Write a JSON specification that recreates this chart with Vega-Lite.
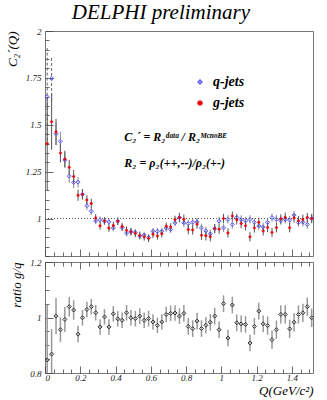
{
  "$schema": "https://vega.github.io/schema/vega-lite/v6.json",
  "padding": {"left": 5, "top": 1, "right": 14, "bottom": 0},
  "background": "white",
  "title": {"text": "DELPHI preliminary", "font": "Liberation Serif", "fontStyle": "italic", "fontWeight": "normal", "fontSize": 21, "color": "#000", "anchor": "middle", "offset": 4},
  "datasets": {
    "upper": [
      {"Q":0.0125,"jet":"q-jets","C":1.649,"err":0.26},{"Q":0.0375,"jet":"q-jets","C":1.747,"err":0.12},{"Q":0.0625,"jet":"q-jets","C":1.452,"err":0.06},{"Q":0.0875,"jet":"q-jets","C":1.412,"err":0.05},{"Q":0.1125,"jet":"q-jets","C":1.312,"err":0.04},{"Q":0.1375,"jet":"q-jets","C":1.226,"err":0.035},{"Q":0.1625,"jet":"q-jets","C":1.192,"err":0.03},{"Q":0.1875,"jet":"q-jets","C":1.194,"err":0.028},{"Q":0.2125,"jet":"q-jets","C":1.129,"err":0.025},{"Q":0.2375,"jet":"q-jets","C":1.068,"err":0.022},
      {"Q":0.2625,"jet":"q-jets","C":1.039,"err":0.02},{"Q":0.2875,"jet":"q-jets","C":0.987,"err":0.018},{"Q":0.3125,"jet":"q-jets","C":0.993,"err":0.018},{"Q":0.3375,"jet":"q-jets","C":0.986,"err":0.018},{"Q":0.3625,"jet":"q-jets","C":0.982,"err":0.018},{"Q":0.3875,"jet":"q-jets","C":0.95,"err":0.018},{"Q":0.4125,"jet":"q-jets","C":0.986,"err":0.018},{"Q":0.4375,"jet":"q-jets","C":0.952,"err":0.018},{"Q":0.4625,"jet":"q-jets","C":0.922,"err":0.018},{"Q":0.4875,"jet":"q-jets","C":0.93,"err":0.018},
      {"Q":0.5125,"jet":"q-jets","C":0.925,"err":0.018},{"Q":0.5375,"jet":"q-jets","C":0.906,"err":0.018},{"Q":0.5625,"jet":"q-jets","C":0.912,"err":0.018},{"Q":0.5875,"jet":"q-jets","C":0.898,"err":0.018},{"Q":0.6125,"jet":"q-jets","C":0.932,"err":0.018},{"Q":0.6375,"jet":"q-jets","C":0.932,"err":0.018},{"Q":0.6625,"jet":"q-jets","C":0.932,"err":0.018},{"Q":0.6875,"jet":"q-jets","C":0.948,"err":0.018},{"Q":0.7125,"jet":"q-jets","C":0.941,"err":0.018},{"Q":0.7375,"jet":"q-jets","C":0.977,"err":0.018},
      {"Q":0.7625,"jet":"q-jets","C":1.005,"err":0.022},{"Q":0.7875,"jet":"q-jets","C":0.977,"err":0.022},{"Q":0.8125,"jet":"q-jets","C":0.973,"err":0.022},{"Q":0.8375,"jet":"q-jets","C":0.98,"err":0.022},{"Q":0.8625,"jet":"q-jets","C":0.982,"err":0.022},{"Q":0.8875,"jet":"q-jets","C":0.95,"err":0.022},{"Q":0.9125,"jet":"q-jets","C":0.934,"err":0.022},{"Q":0.9375,"jet":"q-jets","C":0.919,"err":0.022},{"Q":0.9625,"jet":"q-jets","C":0.946,"err":0.022},{"Q":0.9875,"jet":"q-jets","C":0.986,"err":0.022},
      {"Q":1.0125,"jet":"q-jets","C":0.95,"err":0.022},{"Q":1.0375,"jet":"q-jets","C":0.995,"err":0.022},{"Q":1.0625,"jet":"q-jets","C":0.968,"err":0.022},{"Q":1.0875,"jet":"q-jets","C":1.005,"err":0.022},{"Q":1.1125,"jet":"q-jets","C":0.995,"err":0.022},{"Q":1.1375,"jet":"q-jets","C":0.987,"err":0.022},{"Q":1.1625,"jet":"q-jets","C":0.995,"err":0.022},{"Q":1.1875,"jet":"q-jets","C":0.98,"err":0.022},{"Q":1.2125,"jet":"q-jets","C":0.96,"err":0.022},{"Q":1.2375,"jet":"q-jets","C":0.955,"err":0.022},
      {"Q":1.2625,"jet":"q-jets","C":0.98,"err":0.022},{"Q":1.2875,"jet":"q-jets","C":1.005,"err":0.022},{"Q":1.3125,"jet":"q-jets","C":0.996,"err":0.022},{"Q":1.3375,"jet":"q-jets","C":0.989,"err":0.022},{"Q":1.3625,"jet":"q-jets","C":0.996,"err":0.022},{"Q":1.3875,"jet":"q-jets","C":0.991,"err":0.022},{"Q":1.4125,"jet":"q-jets","C":1.018,"err":0.022},{"Q":1.4375,"jet":"q-jets","C":0.979,"err":0.022},{"Q":1.4625,"jet":"q-jets","C":0.98,"err":0.022},{"Q":1.4875,"jet":"q-jets","C":0.968,"err":0.022},{"Q":1.5125,"jet":"q-jets","C":1.0,"err":0.022},
      {"Q":0.0125,"jet":"g-jets","C":1.40,"err":0.25},{"Q":0.0375,"jet":"g-jets","C":1.516,"err":0.15},{"Q":0.0625,"jet":"g-jets","C":1.462,"err":0.07},{"Q":0.0875,"jet":"g-jets","C":1.349,"err":0.05},{"Q":0.1125,"jet":"g-jets","C":1.317,"err":0.045},{"Q":0.1375,"jet":"g-jets","C":1.273,"err":0.04},{"Q":0.1625,"jet":"g-jets","C":1.224,"err":0.035},{"Q":0.1875,"jet":"g-jets","C":1.124,"err":0.03},{"Q":0.2125,"jet":"g-jets","C":1.129,"err":0.028},{"Q":0.2375,"jet":"g-jets","C":1.099,"err":0.025},
      {"Q":0.2625,"jet":"g-jets","C":1.08,"err":0.025},{"Q":0.2875,"jet":"g-jets","C":1.003,"err":0.02},{"Q":0.3125,"jet":"g-jets","C":0.961,"err":0.02},{"Q":0.3375,"jet":"g-jets","C":0.987,"err":0.02},{"Q":0.3625,"jet":"g-jets","C":0.949,"err":0.02},{"Q":0.3875,"jet":"g-jets","C":0.963,"err":0.02},{"Q":0.4125,"jet":"g-jets","C":0.985,"err":0.02},{"Q":0.4375,"jet":"g-jets","C":0.957,"err":0.02},{"Q":0.4625,"jet":"g-jets","C":0.937,"err":0.02},{"Q":0.4875,"jet":"g-jets","C":0.929,"err":0.02},
      {"Q":0.5125,"jet":"g-jets","C":0.921,"err":0.02},{"Q":0.5375,"jet":"g-jets","C":0.91,"err":0.02},{"Q":0.5625,"jet":"g-jets","C":0.902,"err":0.02},{"Q":0.5875,"jet":"g-jets","C":0.894,"err":0.02},{"Q":0.6125,"jet":"g-jets","C":0.916,"err":0.02},{"Q":0.6375,"jet":"g-jets","C":0.907,"err":0.02},{"Q":0.6625,"jet":"g-jets","C":0.919,"err":0.02},{"Q":0.6875,"jet":"g-jets","C":0.959,"err":0.02},{"Q":0.7125,"jet":"g-jets","C":0.955,"err":0.02},{"Q":0.7375,"jet":"g-jets","C":0.995,"err":0.02},
      {"Q":0.7625,"jet":"g-jets","C":1.005,"err":0.025},{"Q":0.7875,"jet":"g-jets","C":0.996,"err":0.025},{"Q":0.8125,"jet":"g-jets","C":0.941,"err":0.025},{"Q":0.8375,"jet":"g-jets","C":0.939,"err":0.025},{"Q":0.8625,"jet":"g-jets","C":0.97,"err":0.025},{"Q":0.8875,"jet":"g-jets","C":0.911,"err":0.025},{"Q":0.9125,"jet":"g-jets","C":0.908,"err":0.025},{"Q":0.9375,"jet":"g-jets","C":0.903,"err":0.025},{"Q":0.9625,"jet":"g-jets","C":0.946,"err":0.025},{"Q":0.9875,"jet":"g-jets","C":0.943,"err":0.025},
      {"Q":1.0125,"jet":"g-jets","C":1.0,"err":0.025},{"Q":1.0375,"jet":"g-jets","C":0.923,"err":0.025},{"Q":1.0625,"jet":"g-jets","C":1.013,"err":0.025},{"Q":1.0875,"jet":"g-jets","C":0.993,"err":0.025},{"Q":1.1125,"jet":"g-jets","C":0.973,"err":0.025},{"Q":1.1375,"jet":"g-jets","C":0.961,"err":0.025},{"Q":1.1625,"jet":"g-jets","C":0.902,"err":0.025},{"Q":1.1875,"jet":"g-jets","C":0.95,"err":0.025},{"Q":1.2125,"jet":"g-jets","C":0.98,"err":0.025},{"Q":1.2375,"jet":"g-jets","C":0.934,"err":0.025},
      {"Q":1.2625,"jet":"g-jets","C":0.952,"err":0.025},{"Q":1.2875,"jet":"g-jets","C":0.926,"err":0.025},{"Q":1.3125,"jet":"g-jets","C":0.951,"err":0.025},{"Q":1.3375,"jet":"g-jets","C":0.998,"err":0.025},{"Q":1.3625,"jet":"g-jets","C":1.006,"err":0.025},{"Q":1.3875,"jet":"g-jets","C":0.951,"err":0.025},{"Q":1.4125,"jet":"g-jets","C":1.003,"err":0.025},{"Q":1.4375,"jet":"g-jets","C":0.988,"err":0.025},{"Q":1.4625,"jet":"g-jets","C":0.996,"err":0.025},{"Q":1.4875,"jet":"g-jets","C":1.005,"err":0.025},{"Q":1.5125,"jet":"g-jets","C":1.0,"err":0.025}
    ],
    "ratio": [
      {"Q":0.0125,"r":0.847,"re":0.2},{"Q":0.0375,"r":0.868,"re":0.09},{"Q":0.0625,"r":1.005,"re":0.065},{"Q":0.0875,"r":0.956,"re":0.045},{"Q":0.1125,"r":0.993,"re":0.045},{"Q":0.1375,"r":1.039,"re":0.035},{"Q":0.1625,"r":1.027,"re":0.035},{"Q":0.1875,"r":0.94,"re":0.03},{"Q":0.2125,"r":0.999,"re":0.028},{"Q":0.2375,"r":1.029,"re":0.028},
      {"Q":0.2625,"r":1.039,"re":0.028},{"Q":0.2875,"r":1.017,"re":0.028},{"Q":0.3125,"r":0.966,"re":0.028},{"Q":0.3375,"r":1.002,"re":0.028},{"Q":0.3625,"r":0.966,"re":0.028},{"Q":0.3875,"r":1.013,"re":0.028},{"Q":0.4125,"r":0.995,"re":0.028},{"Q":0.4375,"r":0.99,"re":0.028},{"Q":0.4625,"r":1.017,"re":0.028},{"Q":0.4875,"r":0.999,"re":0.028},
      {"Q":0.5125,"r":0.996,"re":0.028},{"Q":0.5375,"r":1.005,"re":0.028},{"Q":0.5625,"r":0.99,"re":0.028},{"Q":0.5875,"r":0.996,"re":0.028},{"Q":0.6125,"r":0.984,"re":0.028},{"Q":0.6375,"r":0.972,"re":0.028},{"Q":0.6625,"r":0.984,"re":0.028},{"Q":0.6875,"r":1.011,"re":0.028},{"Q":0.7125,"r":1.015,"re":0.028},{"Q":0.7375,"r":1.016,"re":0.028},
      {"Q":0.7625,"r":1.005,"re":0.028},{"Q":0.7875,"r":1.015,"re":0.03},{"Q":0.8125,"r":0.968,"re":0.03},{"Q":0.8375,"r":0.96,"re":0.03},{"Q":0.8625,"r":0.987,"re":0.03},{"Q":0.8875,"r":0.96,"re":0.03},{"Q":0.9125,"r":0.972,"re":0.03},{"Q":0.9375,"r":0.983,"re":0.03},{"Q":0.9625,"r":1.005,"re":0.03},{"Q":0.9875,"r":0.956,"re":0.03},
      {"Q":1.0125,"r":1.05,"re":0.03},{"Q":1.0375,"r":0.926,"re":0.03},{"Q":1.0625,"r":1.045,"re":0.03},{"Q":1.0875,"r":0.981,"re":0.03},{"Q":1.1125,"r":0.977,"re":0.03},{"Q":1.1375,"r":0.975,"re":0.03},{"Q":1.1625,"r":0.908,"re":0.03},{"Q":1.1875,"r":0.968,"re":0.03},{"Q":1.2125,"r":1.023,"re":0.03},{"Q":1.2375,"r":0.977,"re":0.03},
      {"Q":1.2625,"r":0.971,"re":0.033},{"Q":1.2875,"r":0.92,"re":0.033},{"Q":1.3125,"r":0.956,"re":0.033},{"Q":1.3375,"r":1.011,"re":0.033},{"Q":1.3625,"r":1.011,"re":0.033},{"Q":1.3875,"r":0.959,"re":0.033},{"Q":1.4125,"r":0.983,"re":0.033},{"Q":1.4375,"r":1.011,"re":0.033},{"Q":1.4625,"r":1.017,"re":0.033},{"Q":1.4875,"r":1.039,"re":0.033},{"Q":1.5125,"r":0.999,"re":0.033}
    ]
  },
  "spacing": 0,
  "vconcat": [
    {
      "width": 268,
      "height": 225,
      "layer": [
        {"data": {"name": "upper"},
         "transform": [{"filter": "datum.jet == 'q-jets' && datum.Q > 0.05"}], "mark": {"type": "errorbar", "color": "#9a9aa6", "thickness": 1.2},
         "encoding": {
           "x": {"field": "Q", "type": "quantitative", "scale": {"domain": [0, 1.52], "nice": false, "zero": false},
             "axis": {"orient": "bottom", "labels": false, "title": null,
               "values": [0,0.05,0.1,0.15,0.2,0.25,0.3,0.35,0.4,0.45,0.5,0.55,0.6,0.65,0.7,0.75,0.8,0.85,0.9,0.95,1,1.05,1.1,1.15,1.2,1.25,1.3,1.35,1.4,1.45,1.5],
               "tickSize": {"condition": {"test": "indexof([0,0.2,0.4,0.6,0.8,1,1.2,1.4], datum.value) >= 0", "value": -7}, "value": -4}}},
           "y": {"field": "C", "type": "quantitative", "scale": {"domain": [0.8, 2], "nice": false, "zero": false},
             "axis": {"title": "C₂´(Q)", "titleAnchor": "end", "titleFontSize": 13, "titlePadding": 6,
               "values": [0.8,0.85,0.9,0.95,1,1.05,1.1,1.15,1.2,1.25,1.3,1.35,1.4,1.45,1.5,1.55,1.6,1.65,1.7,1.75,1.8,1.85,1.9,1.95,2],
               "labelExpr": "indexof([1,1.25,1.5,1.75,2], datum.value) >= 0 ? datum.value + '' : ''",
               "tickSize": {"condition": {"test": "indexof([1,1.25,1.5,1.75,2], datum.value) >= 0", "value": -8}, "value": -4},
               "labelPadding": 12}},
           "yError": {"field": "err"}}},
        {"data": {"name": "upper"},
         "transform": [{"filter": "datum.jet == 'q-jets' && datum.Q < 0.05"}], "mark": {"type": "errorbar", "color": "#666", "thickness": 1, "rule": {"strokeDash": [3, 2]}},
         "encoding": {
           "x": {"field": "Q", "type": "quantitative", "scale": {"domain": [0, 1.52], "nice": false, "zero": false},
             "axis": {"orient": "bottom", "labels": false, "title": null,
               "values": [0,0.05,0.1,0.15,0.2,0.25,0.3,0.35,0.4,0.45,0.5,0.55,0.6,0.65,0.7,0.75,0.8,0.85,0.9,0.95,1,1.05,1.1,1.15,1.2,1.25,1.3,1.35,1.4,1.45,1.5],
               "tickSize": {"condition": {"test": "indexof([0,0.2,0.4,0.6,0.8,1,1.2,1.4], datum.value) >= 0", "value": -7}, "value": -4}}},
           "y": {"field": "C", "type": "quantitative", "scale": {"domain": [0.8, 2], "nice": false, "zero": false},
             "axis": {"title": "C₂´(Q)", "titleAnchor": "end", "titleFontSize": 13, "titlePadding": 6,
               "values": [0.8,0.85,0.9,0.95,1,1.05,1.1,1.15,1.2,1.25,1.3,1.35,1.4,1.45,1.5,1.55,1.6,1.65,1.7,1.75,1.8,1.85,1.9,1.95,2],
               "labelExpr": "indexof([1,1.25,1.5,1.75,2], datum.value) >= 0 ? datum.value + '' : ''",
               "tickSize": {"condition": {"test": "indexof([1,1.25,1.5,1.75,2], datum.value) >= 0", "value": -8}, "value": -4},
               "labelPadding": 12}},
           "yError": {"field": "err"}}},
        {"data": {"name": "upper"},
         "transform": [{"filter": "datum.jet == 'g-jets'"}], "mark": {"type": "errorbar", "color": "#555", "thickness": 1},
         "encoding": {
           "x": {"field": "Q", "type": "quantitative", "scale": {"domain": [0, 1.52], "nice": false, "zero": false},
             "axis": {"orient": "bottom", "labels": false, "title": null,
               "values": [0,0.05,0.1,0.15,0.2,0.25,0.3,0.35,0.4,0.45,0.5,0.55,0.6,0.65,0.7,0.75,0.8,0.85,0.9,0.95,1,1.05,1.1,1.15,1.2,1.25,1.3,1.35,1.4,1.45,1.5],
               "tickSize": {"condition": {"test": "indexof([0,0.2,0.4,0.6,0.8,1,1.2,1.4], datum.value) >= 0", "value": -7}, "value": -4}}},
           "y": {"field": "C", "type": "quantitative", "scale": {"domain": [0.8, 2], "nice": false, "zero": false},
             "axis": {"title": "C₂´(Q)", "titleAnchor": "end", "titleFontSize": 13, "titlePadding": 6,
               "values": [0.8,0.85,0.9,0.95,1,1.05,1.1,1.15,1.2,1.25,1.3,1.35,1.4,1.45,1.5,1.55,1.6,1.65,1.7,1.75,1.8,1.85,1.9,1.95,2],
               "labelExpr": "indexof([1,1.25,1.5,1.75,2], datum.value) >= 0 ? datum.value + '' : ''",
               "tickSize": {"condition": {"test": "indexof([1,1.25,1.5,1.75,2], datum.value) >= 0", "value": -8}, "value": -4},
               "labelPadding": 12}},
           "yError": {"field": "err"}}},
        {"data": {"values": [{}]}, "mark": {"type": "rule", "color": "#555", "strokeDash": [1, 2], "strokeWidth": 1},
         "encoding": {
           "x": {"datum": 0, "type": "quantitative", "scale": {"domain": [0, 1.52], "nice": false, "zero": false},
             "axis": {"orient": "bottom", "labels": false, "title": null,
               "values": [0,0.05,0.1,0.15,0.2,0.25,0.3,0.35,0.4,0.45,0.5,0.55,0.6,0.65,0.7,0.75,0.8,0.85,0.9,0.95,1,1.05,1.1,1.15,1.2,1.25,1.3,1.35,1.4,1.45,1.5],
               "tickSize": {"condition": {"test": "indexof([0,0.2,0.4,0.6,0.8,1,1.2,1.4], datum.value) >= 0", "value": -7}, "value": -4}}},
           "x2": {"datum": 1.52},
           "y": {"datum": 1, "type": "quantitative", "scale": {"domain": [0.8, 2], "nice": false, "zero": false},
             "axis": {"title": "C₂´(Q)", "titleAnchor": "end", "titleFontSize": 13, "titlePadding": 6,
               "values": [0.8,0.85,0.9,0.95,1,1.05,1.1,1.15,1.2,1.25,1.3,1.35,1.4,1.45,1.5,1.55,1.6,1.65,1.7,1.75,1.8,1.85,1.9,1.95,2],
               "labelExpr": "indexof([1,1.25,1.5,1.75,2], datum.value) >= 0 ? datum.value + '' : ''",
               "tickSize": {"condition": {"test": "indexof([1,1.25,1.5,1.75,2], datum.value) >= 0", "value": -8}, "value": -4},
               "labelPadding": 12}}}},
        {"data": {"name": "upper"},
         "transform": [{"filter": "datum.jet == 'q-jets'"}],
         "mark": {"type": "point", "size": 16, "strokeWidth": 1, "opacity": 1},
         "encoding": {
           "x": {"field": "Q", "type": "quantitative", "scale": {"domain": [0, 1.52], "nice": false, "zero": false},
             "axis": {"orient": "bottom", "labels": false, "title": null,
               "values": [0,0.05,0.1,0.15,0.2,0.25,0.3,0.35,0.4,0.45,0.5,0.55,0.6,0.65,0.7,0.75,0.8,0.85,0.9,0.95,1,1.05,1.1,1.15,1.2,1.25,1.3,1.35,1.4,1.45,1.5],
               "tickSize": {"condition": {"test": "indexof([0,0.2,0.4,0.6,0.8,1,1.2,1.4], datum.value) >= 0", "value": -7}, "value": -4}}},
           "y": {"field": "C", "type": "quantitative", "scale": {"domain": [0.8, 2], "nice": false, "zero": false},
             "axis": {"title": "C₂´(Q)", "titleAnchor": "end", "titleFontSize": 13, "titlePadding": 6,
               "values": [0.8,0.85,0.9,0.95,1,1.05,1.1,1.15,1.2,1.25,1.3,1.35,1.4,1.45,1.5,1.55,1.6,1.65,1.7,1.75,1.8,1.85,1.9,1.95,2],
               "labelExpr": "indexof([1,1.25,1.5,1.75,2], datum.value) >= 0 ? datum.value + '' : ''",
               "tickSize": {"condition": {"test": "indexof([1,1.25,1.5,1.75,2], datum.value) >= 0", "value": -8}, "value": -4},
               "labelPadding": 12}},
           "stroke": {"field": "jet", "type": "nominal", "scale": {"domain": ["q-jets", "g-jets"], "range": ["#5a5aff", "#ee0000"]},
             "legend": {"orient": "none", "legendX": 148, "legendY": 44, "title": null, "labelFont": "Liberation Serif", "labelFontStyle": "italic", "labelFontWeight": "bold", "labelFontSize": 14, "labelColor": "#000", "symbolSize": 14, "rowPadding": 7, "labelOffset": 6}},
           "fill": {"field": "jet", "type": "nominal", "scale": {"domain": ["q-jets", "g-jets"], "range": ["transparent", "#ee0000"]},
             "legend": {"orient": "none", "legendX": 148, "legendY": 44, "title": null, "labelFont": "Liberation Serif", "labelFontStyle": "italic", "labelFontWeight": "bold", "labelFontSize": 14, "labelColor": "#000", "symbolSize": 14, "rowPadding": 7, "labelOffset": 6}},
           "shape": {"field": "jet", "type": "nominal", "scale": {"domain": ["q-jets", "g-jets"], "range": ["diamond", "cross"]},
             "legend": {"orient": "none", "legendX": 148, "legendY": 44, "title": null, "labelFont": "Liberation Serif", "labelFontStyle": "italic", "labelFontWeight": "bold", "labelFontSize": 14, "labelColor": "#000", "symbolSize": 14, "rowPadding": 7, "labelOffset": 6}}
         }},
        {"data": {"name": "upper"},
         "transform": [{"filter": "datum.jet == 'g-jets'"}],
         "mark": {"type": "point", "size": 6, "strokeWidth": 0.5, "opacity": 1},
         "encoding": {
           "x": {"field": "Q", "type": "quantitative", "scale": {"domain": [0, 1.52], "nice": false, "zero": false},
             "axis": {"orient": "bottom", "labels": false, "title": null,
               "values": [0,0.05,0.1,0.15,0.2,0.25,0.3,0.35,0.4,0.45,0.5,0.55,0.6,0.65,0.7,0.75,0.8,0.85,0.9,0.95,1,1.05,1.1,1.15,1.2,1.25,1.3,1.35,1.4,1.45,1.5],
               "tickSize": {"condition": {"test": "indexof([0,0.2,0.4,0.6,0.8,1,1.2,1.4], datum.value) >= 0", "value": -7}, "value": -4}}},
           "y": {"field": "C", "type": "quantitative", "scale": {"domain": [0.8, 2], "nice": false, "zero": false},
             "axis": {"title": "C₂´(Q)", "titleAnchor": "end", "titleFontSize": 13, "titlePadding": 6,
               "values": [0.8,0.85,0.9,0.95,1,1.05,1.1,1.15,1.2,1.25,1.3,1.35,1.4,1.45,1.5,1.55,1.6,1.65,1.7,1.75,1.8,1.85,1.9,1.95,2],
               "labelExpr": "indexof([1,1.25,1.5,1.75,2], datum.value) >= 0 ? datum.value + '' : ''",
               "tickSize": {"condition": {"test": "indexof([1,1.25,1.5,1.75,2], datum.value) >= 0", "value": -8}, "value": -4},
               "labelPadding": 12}},
           "stroke": {"field": "jet", "type": "nominal", "scale": {"domain": ["q-jets", "g-jets"], "range": ["#5a5aff", "#ee0000"]},
             "legend": {"orient": "none", "legendX": 148, "legendY": 44, "title": null, "labelFont": "Liberation Serif", "labelFontStyle": "italic", "labelFontWeight": "bold", "labelFontSize": 14, "labelColor": "#000", "symbolSize": 14, "rowPadding": 7, "labelOffset": 6}},
           "fill": {"field": "jet", "type": "nominal", "scale": {"domain": ["q-jets", "g-jets"], "range": ["transparent", "#ee0000"]},
             "legend": {"orient": "none", "legendX": 148, "legendY": 44, "title": null, "labelFont": "Liberation Serif", "labelFontStyle": "italic", "labelFontWeight": "bold", "labelFontSize": 14, "labelColor": "#000", "symbolSize": 14, "rowPadding": 7, "labelOffset": 6}},
           "shape": {"field": "jet", "type": "nominal", "scale": {"domain": ["q-jets", "g-jets"], "range": ["diamond", "cross"]},
             "legend": {"orient": "none", "legendX": 148, "legendY": 44, "title": null, "labelFont": "Liberation Serif", "labelFontStyle": "italic", "labelFontWeight": "bold", "labelFontSize": 14, "labelColor": "#000", "symbolSize": 14, "rowPadding": 7, "labelOffset": 6}}
         }},
        {"data": {"values": [{}]}, "mark": {"type": "text", "align": "left", "baseline": "alphabetic", "font": "Liberation Serif", "fontStyle": "italic", "fontWeight": "bold", "fontSize": 12, "color": "#000"},
         "encoding": {
           "x": {"datum": 0.45, "type": "quantitative", "scale": {"domain": [0, 1.52], "nice": false, "zero": false},
             "axis": {"orient": "bottom", "labels": false, "title": null,
               "values": [0,0.05,0.1,0.15,0.2,0.25,0.3,0.35,0.4,0.45,0.5,0.55,0.6,0.65,0.7,0.75,0.8,0.85,0.9,0.95,1,1.05,1.1,1.15,1.2,1.25,1.3,1.35,1.4,1.45,1.5],
               "tickSize": {"condition": {"test": "indexof([0,0.2,0.4,0.6,0.8,1,1.2,1.4], datum.value) >= 0", "value": -7}, "value": -4}}},
           "y": {"datum": 1.414, "type": "quantitative", "scale": {"domain": [0.8, 2], "nice": false, "zero": false},
             "axis": {"title": "C₂´(Q)", "titleAnchor": "end", "titleFontSize": 13, "titlePadding": 6,
               "values": [0.8,0.85,0.9,0.95,1,1.05,1.1,1.15,1.2,1.25,1.3,1.35,1.4,1.45,1.5,1.55,1.6,1.65,1.7,1.75,1.8,1.85,1.9,1.95,2],
               "labelExpr": "indexof([1,1.25,1.5,1.75,2], datum.value) >= 0 ? datum.value + '' : ''",
               "tickSize": {"condition": {"test": "indexof([1,1.25,1.5,1.75,2], datum.value) >= 0", "value": -8}, "value": -4},
               "labelPadding": 12}},
           "text": {"value": "C₂´ = R₂ᵈᵃᵗᵃ / R₂ᴹᶜⁿᵒᴮᴱ"}}},
        {"data": {"values": [{}]}, "mark": {"type": "text", "align": "left", "baseline": "alphabetic", "font": "Liberation Serif", "fontStyle": "italic", "fontWeight": "bold", "fontSize": 12, "color": "#000"},
         "encoding": {
           "x": {"datum": 0.45, "type": "quantitative", "scale": {"domain": [0, 1.52], "nice": false, "zero": false},
             "axis": {"orient": "bottom", "labels": false, "title": null,
               "values": [0,0.05,0.1,0.15,0.2,0.25,0.3,0.35,0.4,0.45,0.5,0.55,0.6,0.65,0.7,0.75,0.8,0.85,0.9,0.95,1,1.05,1.1,1.15,1.2,1.25,1.3,1.35,1.4,1.45,1.5],
               "tickSize": {"condition": {"test": "indexof([0,0.2,0.4,0.6,0.8,1,1.2,1.4], datum.value) >= 0", "value": -7}, "value": -4}}},
           "y": {"datum": 1.274, "type": "quantitative", "scale": {"domain": [0.8, 2], "nice": false, "zero": false},
             "axis": {"title": "C₂´(Q)", "titleAnchor": "end", "titleFontSize": 13, "titlePadding": 6,
               "values": [0.8,0.85,0.9,0.95,1,1.05,1.1,1.15,1.2,1.25,1.3,1.35,1.4,1.45,1.5,1.55,1.6,1.65,1.7,1.75,1.8,1.85,1.9,1.95,2],
               "labelExpr": "indexof([1,1.25,1.5,1.75,2], datum.value) >= 0 ? datum.value + '' : ''",
               "tickSize": {"condition": {"test": "indexof([1,1.25,1.5,1.75,2], datum.value) >= 0", "value": -8}, "value": -4},
               "labelPadding": 12}},
           "text": {"value": "R₂ = ρ₂(++,--)/ρ₂(+-)"}}}
      ]
    },
    {
      "width": 268,
      "height": 111,
      "data": {"name": "ratio"},
      "encoding": {
        "x": {"field": "Q", "type": "quantitative", "scale": {"domain": [0, 1.52], "nice": false, "zero": false},
          "axis": {"orient": "bottom", "title": "Q(GeV/c²)", "titleAnchor": "end", "titleFontSize": 13, "titlePadding": 2,
            "values": [0,0.05,0.1,0.15,0.2,0.25,0.3,0.35,0.4,0.45,0.5,0.55,0.6,0.65,0.7,0.75,0.8,0.85,0.9,0.95,1,1.05,1.1,1.15,1.2,1.25,1.3,1.35,1.4,1.45,1.5],
            "labelExpr": "indexof([0,0.2,0.4,0.6,0.8,1,1.2,1.4], datum.value) >= 0 ? datum.value + '' : ''",
            "tickSize": {"condition": {"test": "indexof([0,0.2,0.4,0.6,0.8,1,1.2,1.4], datum.value) >= 0", "value": -7}, "value": -4},
            "labelPadding": 7}},
        "y": {"field": "r", "type": "quantitative", "scale": {"domain": [0.8, 1.2], "nice": false, "zero": false},
          "axis": {"title": "ratio g/q", "titleAnchor": "end", "titleFontSize": 13, "titlePadding": 6,
            "values": [0.8,0.85,0.9,0.95,1,1.05,1.1,1.15,1.2],
            "labelExpr": "indexof([0.8,1,1.2], datum.value) >= 0 ? datum.value + '' : ''",
            "tickSize": {"condition": {"test": "indexof([0.8,1,1.2], datum.value) >= 0", "value": -8}, "value": -4},
            "labelPadding": 12}}
      },
      "layer": [
        {"mark": {"type": "errorbar", "color": "#999", "thickness": 1.5, "clip": true},
         "encoding": {
           "x": {"field": "Q", "type": "quantitative", "scale": {"domain": [0, 1.52], "nice": false, "zero": false},
             "axis": {"orient": "top", "labels": false, "title": null,
               "values": [0,0.05,0.1,0.15,0.2,0.25,0.3,0.35,0.4,0.45,0.5,0.55,0.6,0.65,0.7,0.75,0.8,0.85,0.9,0.95,1,1.05,1.1,1.15,1.2,1.25,1.3,1.35,1.4,1.45,1.5],
               "tickSize": {"condition": {"test": "indexof([0,0.2,0.4,0.6,0.8,1,1.2,1.4], datum.value) >= 0", "value": -7}, "value": -4}}},
           "yError": {"field": "re"}}},
        {"mark": {"type": "point", "shape": "diamond", "size": 16, "stroke": "#333", "strokeWidth": 1, "filled": false, "opacity": 1, "clip": true}}
      ],
      "resolve": {"axis": {"x": "independent"}}
    }
  ],
  "config": {
    "view": {"stroke": "#777", "strokeWidth": 1},
    "axis": {"labelFont": "Liberation Serif", "labelFontStyle": "italic", "labelFontSize": 9, "labelColor": "#222",
      "titleFont": "Liberation Serif", "titleFontStyle": "italic", "titleFontWeight": "normal", "titleColor": "#000",
      "domain": false, "grid": false, "tickColor": "#444", "tickWidth": 0.8}
  }
}
